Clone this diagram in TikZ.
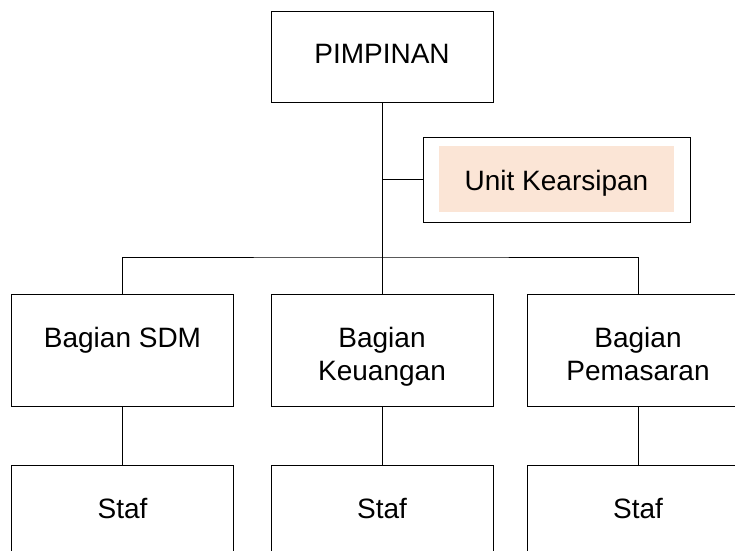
\documentclass[tikz,border=0pt]{standalone}
\usepackage{fontspec}
\setmainfont{Liberation Sans}
\definecolor{arsipwarna}{HTML}{FBE5D6}
\tikzstyle{kotak} = [draw=black, minimum width=222pt, minimum height=112pt, inner sep=0pt]
\tikzstyle{isi} = [fill=arsipwarna, minimum width=235pt, minimum height=66pt, inner sep=0pt]
\tikzstyle{teks} = [anchor=north, yshift=-33pt, inner sep=0pt, align=center, font={\fontsize{28}{33}\selectfont}]

\begin{document}
\begin{tikzpicture}[x=1pt,y=-1pt,line width=1pt]
        \useasboundingbox (0,0) rectangle (735,550);
        \clip (0,0) rectangle (735,550);
        \node[kotak,minimum height=91pt,label={[teks]north:PIMPINAN}](pimpinan) at (382,56.5){};
        \node[isi](arsipisi) at (556.5,179){};
        \node[kotak,minimum width=267pt,minimum height=85pt,label={[teks]north:Unit Kearsipan}](arsip) at (556.5,179.5){};
        \node[kotak,label={[teks]north:Bagian SDM}](sdm) at (122.5,350){};
        \node[kotak,label={[teks]north:Bagian\\Keuangan}](keuangan) at (382,350){};
        \node[kotak,label={[teks]north:Bagian\\Pemasaran}](pemasaran) at (638,350){};
        \node[kotak,label={[teks]north:Staf}](stafsdm) at (122.5,521){};
        \node[kotak,label={[teks]north:Staf}](stafkeuangan) at (382,521){};
        \node[kotak,label={[teks]north:Staf}](stafpemasaran) at (638,521){};
        \coordinate(cabang) at (382,257);
        \draw(pimpinan)--(cabang);
        \draw(arsip.west)--(arsip.west-|cabang);
        \draw(sdm)|-(cabang)-|(pemasaran);
        \draw(keuangan)--(cabang);
        \draw(sdm)--(stafsdm);
        \draw(keuangan)--(stafkeuangan);
        \draw(pemasaran)--(stafpemasaran);
      \end{tikzpicture}
\end{document}
